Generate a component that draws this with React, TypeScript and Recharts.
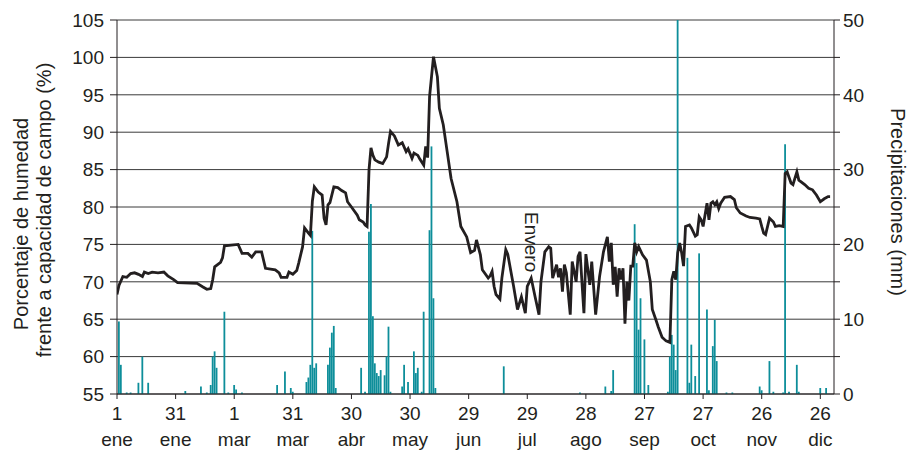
import {
  ComposedChart,
  Bar,
  Line,
  XAxis,
  YAxis,
  CartesianGrid,
  ReferenceDot,
} from 'recharts';

const humDays = [
  1, 2, 4, 6, 8, 10, 12, 14, 15, 17, 19, 22, 25, 27, 30, 32, 42, 45, 47, 49,
  50, 51, 54, 55, 56, 63, 65, 68, 70, 72, 75, 77, 82, 84, 85, 88, 89, 91, 93, 94,
  96, 97, 99, 100, 101, 102, 104, 106, 107, 108, 109, 110, 112, 114, 116, 118, 119, 121, 124, 125,
  127, 128, 129, 130, 131, 132, 133, 135, 137, 139, 140, 141, 143, 145, 147, 149, 150, 152, 153, 155,
  156, 158, 159, 160, 161, 163, 165, 166, 168, 170, 172, 175, 177, 180, 182, 184, 185, 187, 188, 191,
  192, 193, 194, 195, 197, 198, 200, 201, 204, 206, 208, 210, 211, 213, 215, 217, 218, 220, 222, 223,
  224, 226, 227, 228, 229, 230, 231, 233, 234, 236, 237, 238, 240, 241, 243, 244, 246, 248, 250, 252,
  253, 254, 255, 256, 257, 258, 259, 260, 261, 262, 263, 264, 265, 266, 267, 268, 270, 272, 274, 275,
  277, 278, 280, 282, 284, 285, 286, 287, 288, 289, 290, 291, 292, 294, 295, 297, 298, 299, 300, 301,
  303, 304, 305, 306, 307, 308, 309, 310, 312, 315, 317, 318, 320, 323, 325, 328, 330, 331, 332, 333,
  335, 337, 338, 340, 342, 343, 344, 346, 347, 349, 350, 353, 355, 357, 359, 361, 363, 365, 366,
];
const humValues = [
  68.3, 69.5, 70.7, 70.6, 71.1, 71.2, 71.0, 70.7, 71.3, 71.1, 71.3, 71.2, 71.3, 70.8, 70.3, 69.9, 69.8, 69.3, 69.0, 69.1,
  70.3, 72.0, 72.6, 73.2, 74.8, 75.0, 73.8, 73.8, 73.3, 74.0, 74.0, 71.8, 71.6, 71.2, 70.6, 70.6, 71.3, 71.0, 71.5, 72.5,
  74.7, 77.2, 76.5, 76.2, 80.8, 82.7, 82.0, 81.6, 78.5, 77.6, 80.3, 80.6, 82.7, 82.6, 82.2, 81.9, 80.7, 80.0, 78.9, 78.3,
  78.0, 77.6, 77.4, 85.0, 87.9, 86.9, 86.3, 86.0, 85.8, 86.7, 88.5, 90.1, 89.5, 88.3, 88.6, 87.4, 87.8, 86.5, 87.2, 86.9,
  86.4, 85.6, 88.1, 86.6, 94.8, 100.1, 97.4, 93.2, 91.0, 87.4, 83.8, 80.7, 77.4, 76.0, 73.9, 74.2, 75.6, 73.6, 71.6, 70.5,
  70.8, 71.4, 69.4, 68.3, 67.7, 70.5, 74.3, 73.7, 69.4, 66.3, 68.0, 65.8, 69.4, 70.5, 68.0, 65.6, 70.0, 74.0, 74.7, 74.5,
  70.5, 72.3, 70.6, 71.8, 68.7, 72.3, 71.2, 65.6, 72.7, 70.0, 73.4, 74.0, 65.8, 73.7, 69.6, 72.7, 65.6, 70.7, 74.0, 76.0,
  72.7, 75.2, 69.6, 72.0, 68.0, 71.8, 70.3, 71.8, 64.4, 70.0, 67.5, 72.1, 72.1, 75.2, 74.0, 74.7, 73.6, 72.9, 70.0, 66.3,
  64.8, 64.0, 62.6, 62.1, 61.9, 70.3, 71.4, 70.3, 73.9, 75.2, 73.9, 72.1, 77.4, 77.6, 77.2, 76.1, 76.3, 78.7, 78.3, 77.4,
  80.5, 78.3, 80.5, 80.7, 80.3, 80.7, 79.8, 80.5, 81.3, 81.4, 81.0, 79.9, 79.2, 78.8, 78.6, 78.5, 78.4, 77.4, 76.5, 76.3,
  78.5, 78.0, 77.4, 77.5, 77.4, 84.5, 84.7, 83.2, 83.0, 84.7, 83.6, 83.0, 82.5, 82.3, 81.6, 80.7, 81.1, 81.4, 81.4,
];

// precipitaciones diarias (mm)
const rainDays = [
  2, 3, 6, 8, 12, 14, 17, 36, 44, 47, 49, 50, 51, 52, 56, 58, 61, 62, 65,
  83, 87, 90, 91, 98, 99, 100, 101, 102, 103, 109, 110, 111, 112, 113,
  126, 128, 130, 131, 132, 133, 134, 135, 136, 138, 139, 140, 141, 147, 148, 150, 153, 154, 155, 157, 158,
  161, 162, 163, 164, 199, 238, 251, 254, 255, 266, 267, 268, 269, 271, 273,
  283, 284, 285, 286, 287, 288, 293, 294, 295, 297, 299, 303, 304, 306, 307, 308, 313, 316,
  330, 331, 335, 337, 342, 343, 345, 349, 350, 361, 364,
];
const rainMm = [
  9.7, 3.9, 0.2, 0.2, 1.5, 5.0, 1.5, 0.4, 1.0, 0.2, 1.2, 5.0, 5.7, 3.5, 11.0, 0.2, 1.2, 0.6, 0.2,
  1.2, 3.0, 0.8, 0.3, 1.6, 2.2, 3.9, 21.8, 3.5, 4.1, 3.9, 6.2, 8.2, 9.1, 0.8,
  3.5, 0.3, 21.7, 25.4, 10.4, 4.1, 2.8, 2.4, 3.2, 2.5, 5.0, 9.0, 0.3, 1.0, 3.9, 1.6, 5.7, 2.8, 3.5, 0.3, 11.0,
  21.9, 33.1, 12.8, 0.8, 3.7, 0.2, 1.0, 0.4, 3.2, 22.7, 17.5, 8.6, 12.8, 7.3, 1.2,
  0.3, 5.0, 7.9, 6.6, 3.2, 51, 18.2, 1.5, 6.6, 2.4, 18.8, 11.3, 0.5, 6.4, 9.9, 4.4, 0.2, 0.2,
  1.0, 0.5, 4.4, 0.3, 0.2, 33.4, 0.3, 3.9, 0.3, 0.8, 0.8,
];

const tickDays = [1, 31, 61, 91, 121, 151, 181, 211, 241, 271, 301, 331, 361];
const tickDayLabels = ['1', '31', '1', '31', '30', '30', '29', '29', '28', '27', '27', '26', '26'];
const tickMonthLabels = ['ene', 'ene', 'mar', 'mar', 'abr', 'may', 'jun', 'jul', 'ago', 'sep', 'oct', 'nov', 'dic'];
const humTicks = [55, 60, 65, 70, 75, 80, 85, 90, 95, 100, 105];
const rainTicks = [0, 5, 10, 15, 20, 25, 30, 35, 40, 45, 50];

const INK = '#231f20';
const TEAL = '#0d8e9a';

const humByDay = new Map(humDays.map((d, i) => [d, humValues[i]]));
const rainByDay = new Map(rainDays.map((d, i) => [d, rainMm[i]]));

const data = Array.from({ length: 366 }, (_, i) => {
  const day = i + 1;
  return {
    day,
    hum: humByDay.get(day) ?? null,
    rain: rainByDay.get(day) ?? null,
  };
});

function DayTick({ x, y, payload }: any) {
  const idx = tickDays.indexOf(payload.value);
  if (idx < 0) return null;
  return (
    <text x={x} y={y} textAnchor="middle" fill={INK} fontSize={19}>
      <tspan x={x} dy={17}>{tickDayLabels[idx]}</tspan>
      <tspan x={x} dy={26}>{tickMonthLabels[idx]}</tspan>
    </text>
  );
}

function LeftTitle() {
  return (
    <g fill={INK} fontSize={20}>
      <text x={13} y={216} textAnchor="middle" dominantBaseline="central" transform="rotate(-90 13 216)">
        Porcentaje de humedad
      </text>
      <text x={36} y={202} textAnchor="middle" dominantBaseline="central" transform="rotate(-90 36 202)">
        frente a capacidad de campo (%)
      </text>
    </g>
  );
}

function RightTitle() {
  return (
    <text x={890} y={194} fill={INK} fontSize={20} textAnchor="middle" dominantBaseline="central" transform="rotate(90 890 194)">
      Precipitaciones (mm)
    </text>
  );
}

function EnveroLabel({ cx, cy }: any) {
  return (
    <text x={cx} y={cy} fill={INK} fontSize={19} textAnchor="middle" dominantBaseline="central" transform={`rotate(90 ${cx} ${cy})`}>
      Envero
    </text>
  );
}

export default function App() {
  return (
    <div style={{ fontFamily: '"Liberation Sans", Arial, sans-serif' }}>
      <ComposedChart width={907} height={445} data={data} margin={{ top: 12, right: 8, bottom: 9, left: 0 }}>
        <CartesianGrid yAxisId="left" vertical={false} stroke="#3a3a3a" />
        <XAxis
          dataKey="day"
          type="number"
          domain={[1, 368]}
          ticks={tickDays}
          interval={0}
          height={50}
          tickSize={5}
          tickMargin={4}
          tick={<DayTick />}
          stroke={INK}
          allowDataOverflow
        />
        <YAxis
          yAxisId="left"
          domain={[55, 105]}
          ticks={humTicks}
          interval={0}
          width={109}
          tickSize={7}
          tickMargin={6}
          tick={{ fontSize: 19, fill: INK }}
          stroke={INK}
          allowDataOverflow
          label={{ content: () => <LeftTitle /> }}
        />
        <YAxis
          yAxisId="right"
          orientation="right"
          domain={[0, 50]}
          ticks={rainTicks}
          interval={0}
          width={73}
          tickSize={6}
          tickMargin={3}
          tick={{ fontSize: 19, fill: INK }}
          tickFormatter={(v: number) => (v % 10 === 0 ? String(v) : '')}
          stroke={INK}
          allowDataOverflow
          label={{ content: () => <RightTitle /> }}
        />
        <Bar yAxisId="right" dataKey="rain" fill={TEAL} barSize={1.8} isAnimationActive={false} />
        <Line
          yAxisId="left"
          type="linear"
          dataKey="hum"
          stroke={INK}
          strokeWidth={2.8}
          dot={false}
          connectNulls
          isAnimationActive={false}
        />
        <ReferenceDot yAxisId="left" x={213} y={75.3} r={0} shape={(p: any) => <EnveroLabel {...p} />} />
      </ComposedChart>
    </div>
  );
}
